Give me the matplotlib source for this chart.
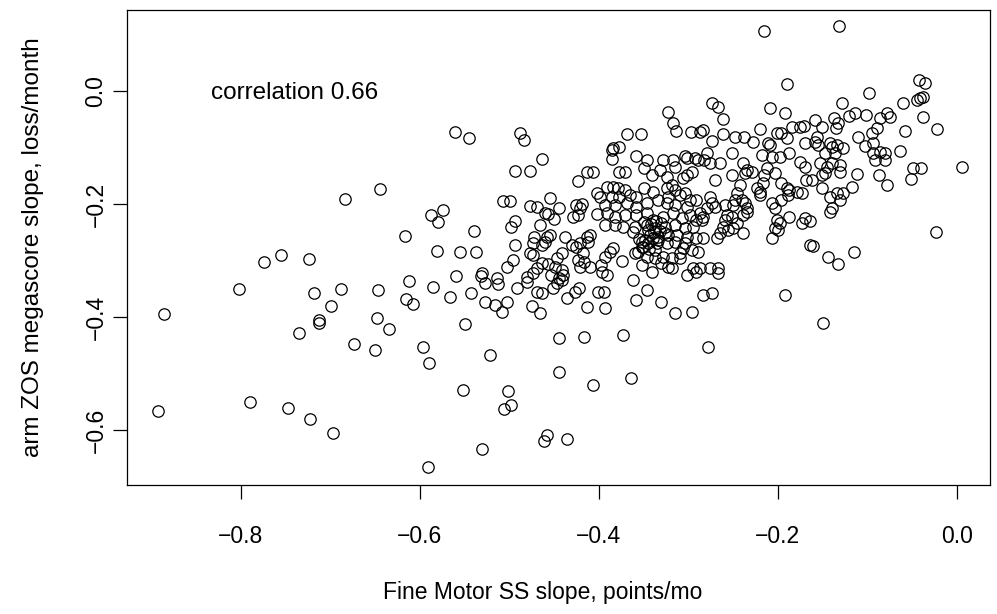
import matplotlib.pyplot as plt

plt.rcParams["font.family"] = ["Liberation Sans", "DejaVu Sans"]

# fine motor slope (points/mo) vs arm ZOS megascore slope (loss/month)
fine_motor = [
    -0.684, -0.774, -0.755, -0.724, -0.802, -0.718, -0.688, -0.699, -0.713, -0.713,
    -0.735, -0.886, -0.892, -0.790, -0.747, -0.723, -0.697,
    -0.561, -0.545, -0.644, -0.574, -0.587, -0.580, -0.617, -0.539, -0.581, -0.555,
    -0.537, -0.559, -0.532, -0.527, -0.612, -0.585, -0.566, -0.543, -0.527, -0.647,
    -0.615, -0.607, -0.648, -0.634, -0.549, -0.673, -0.650, -0.596, -0.590, -0.522,
    -0.552, -0.530, -0.591,
    -0.488, -0.484, -0.464, -0.494, -0.477, -0.413, -0.407, -0.423, -0.402, -0.399,
    -0.507, -0.499, -0.454, -0.477, -0.469, -0.445, -0.425, -0.419, -0.429, -0.423,
    -0.421, -0.460, -0.457, -0.450, -0.402, -0.494, -0.498, -0.466, -0.472, -0.474,
    -0.458, -0.455, -0.460, -0.463, -0.438, -0.494, -0.430, -0.425, -0.421, -0.418,
    -0.413, -0.410, -0.412, -0.477, -0.474, -0.441, -0.447, -0.496, -0.503, -0.463,
    -0.457, -0.469, -0.474, -0.423, -0.416, -0.421, -0.410, -0.441, -0.449, -0.453,
    -0.440, -0.530, -0.514, -0.480, -0.444,
    -0.513, -0.491, -0.480, -0.469, -0.463, -0.451, -0.447, -0.441, -0.435, -0.427,
    -0.422, -0.401, -0.516, -0.508, -0.503, -0.475, -0.466, -0.413, -0.445, -0.416,
    -0.444, -0.406, -0.501, -0.498, -0.506, -0.458, -0.461, -0.436,
    -0.323, -0.317, -0.314, -0.297, -0.287, -0.369, -0.353, -0.384, -0.385, -0.377,
    -0.385, -0.358, -0.346, -0.349, -0.341, -0.328, -0.317, -0.315, -0.324, -0.332,
    -0.304, -0.301, -0.293, -0.289, -0.377, -0.371, -0.301, -0.296, -0.306, -0.391,
    -0.384, -0.379, -0.371, -0.385, -0.377, -0.365, -0.358, -0.349, -0.340, -0.324,
    -0.318, -0.315, -0.323, -0.309, -0.304, -0.298, -0.291, -0.393, -0.382, -0.368,
    -0.358, -0.346, -0.334, -0.324, -0.315, -0.302,
    -0.391, -0.382, -0.371, -0.358, -0.346, -0.340, -0.328, -0.317, -0.307, -0.298,
    -0.291, -0.393, -0.382, -0.373, -0.360, -0.346, -0.337, -0.326, -0.315, -0.304,
    -0.295, -0.343, -0.334, -0.323, -0.313, -0.302, -0.291, -0.345, -0.335, -0.324,
    -0.315, -0.304, -0.352, -0.384, -0.388, -0.356, -0.351, -0.360, -0.393, -0.346,
    -0.337, -0.328, -0.318, -0.309, -0.306, -0.296, -0.289, -0.374, -0.397, -0.396,
    -0.391, -0.352, -0.341, -0.330, -0.323, -0.318, -0.309, -0.295, -0.301, -0.291,
    -0.362, -0.394, -0.346, -0.358, -0.330, -0.393, -0.315, -0.296, -0.373, -0.364,
    -0.216, -0.190, -0.273, -0.267, -0.209, -0.192, -0.261, -0.284, -0.220, -0.184,
    -0.175, -0.171, -0.201, -0.196, -0.190, -0.274, -0.261, -0.248, -0.238, -0.228,
    -0.211, -0.209, -0.170,
    -0.279, -0.276, -0.282, -0.265, -0.251, -0.251, -0.270, -0.239, -0.234, -0.229,
    -0.237, -0.218, -0.207, -0.198, -0.187, -0.212, -0.203, -0.215, -0.175, -0.170,
    -0.168, -0.242, -0.246, -0.248, -0.250, -0.240, -0.237, -0.235, -0.223, -0.220,
    -0.217, -0.220, -0.207, -0.203, -0.196, -0.190, -0.187, -0.189, -0.179, -0.173,
    -0.196, -0.276, -0.274, -0.279, -0.270, -0.259, -0.257, -0.259, -0.251, -0.261,
    -0.256, -0.250, -0.246, -0.265, -0.287, -0.284, -0.285, -0.235, -0.239, -0.201,
    -0.198, -0.203, -0.200, -0.207, -0.187, -0.173, -0.170, -0.239, -0.268, -0.284,
    -0.164, -0.276, -0.267, -0.267, -0.287,
    -0.284, -0.274, -0.192, -0.278,
    -0.132, -0.042, -0.036, -0.098, -0.045, -0.041, -0.038, -0.128, -0.060, -0.078,
    -0.075, -0.086, -0.120, -0.114, -0.102, -0.038, -0.159, -0.151, -0.137, -0.133,
    -0.135, -0.089, -0.095, -0.058, -0.022, -0.111, -0.103, -0.094, -0.156, -0.159,
    -0.155, -0.142, -0.139, -0.134, -0.127, -0.147, -0.136, -0.064, -0.094, -0.086,
    -0.080,
    -0.153, -0.145, -0.139, -0.131, -0.147, -0.151, -0.131, -0.162, -0.151, -0.142,
    -0.134, -0.127, -0.131, -0.139, -0.142, -0.117, -0.112, -0.092, -0.080, -0.087,
    -0.078, -0.049, -0.040, -0.051, 0.006, -0.164, -0.023, -0.161, -0.144, -0.133,
    -0.115, -0.150,
    # tight cluster near the middle
    -0.350, -0.342, -0.336, -0.330, -0.345, -0.338, -0.332, -0.326, -0.355, -0.348,
    -0.340, -0.334, -0.362, -0.352, -0.344, -0.337,
]

arm_zos = [
    -0.191, -0.303, -0.290, -0.297, -0.350, -0.358, -0.350, -0.381, -0.405, -0.411,
    -0.428, -0.395, -0.566, -0.550, -0.561, -0.581, -0.605,
    -0.073, -0.083, -0.173, -0.211, -0.219, -0.232, -0.257, -0.248, -0.283, -0.285,
    -0.285, -0.327, -0.327, -0.340, -0.336, -0.347, -0.365, -0.358, -0.373, -0.352,
    -0.368, -0.377, -0.402, -0.421, -0.412, -0.448, -0.458, -0.453, -0.481, -0.467,
    -0.529, -0.634, -0.665,
    -0.074, -0.087, -0.120, -0.142, -0.142, -0.143, -0.143, -0.159, -0.181, -0.188,
    -0.195, -0.195, -0.189, -0.204, -0.205, -0.207, -0.202, -0.200, -0.223, -0.219,
    -0.207, -0.216, -0.218, -0.227, -0.218, -0.230, -0.241, -0.237, -0.258, -0.269,
    -0.258, -0.255, -0.267, -0.273, -0.258, -0.273, -0.273, -0.276, -0.269, -0.287,
    -0.258, -0.255, -0.267, -0.287, -0.290, -0.287, -0.296, -0.299, -0.312, -0.304,
    -0.306, -0.313, -0.322, -0.299, -0.303, -0.312, -0.312, -0.317, -0.312, -0.326,
    -0.326, -0.322, -0.331, -0.329, -0.331,
    -0.342, -0.349, -0.338, -0.356, -0.358, -0.349, -0.340, -0.335, -0.366, -0.356,
    -0.349, -0.356, -0.379, -0.391, -0.373, -0.381, -0.393, -0.382, -0.437, -0.435,
    -0.497, -0.520, -0.531, -0.556, -0.563, -0.609, -0.619, -0.616,
    -0.037, -0.057, -0.071, -0.073, -0.073, -0.076, -0.076, -0.101, -0.104, -0.099,
    -0.120, -0.115, -0.122, -0.136, -0.149, -0.122, -0.122, -0.135, -0.152, -0.140,
    -0.115, -0.119, -0.119, -0.122, -0.143, -0.143, -0.149, -0.143, -0.154, -0.170,
    -0.170, -0.172, -0.175, -0.188, -0.188, -0.184, -0.188, -0.172, -0.179, -0.172,
    -0.166, -0.175, -0.188, -0.184, -0.181, -0.193, -0.193, -0.202, -0.202, -0.198,
    -0.205, -0.198, -0.193, -0.198, -0.202, -0.205,
    -0.216, -0.223, -0.219, -0.219, -0.216, -0.228, -0.223, -0.216, -0.225, -0.219,
    -0.228, -0.237, -0.237, -0.241, -0.241, -0.237, -0.242, -0.241, -0.237, -0.242,
    -0.241, -0.255, -0.258, -0.255, -0.255, -0.258, -0.260, -0.269, -0.269, -0.269,
    -0.267, -0.269, -0.267, -0.278, -0.285, -0.285, -0.276, -0.287, -0.294, -0.294,
    -0.296, -0.294, -0.296, -0.287, -0.278, -0.281, -0.285, -0.301, -0.308, -0.320,
    -0.326, -0.308, -0.320, -0.304, -0.312, -0.313, -0.296, -0.313, -0.326, -0.320,
    -0.335, -0.356, -0.352, -0.370, -0.373, -0.384, -0.393, -0.391, -0.432, -0.508,
    0.106, 0.012, -0.021, -0.028, -0.030, -0.039, -0.050, -0.069, -0.067, -0.064,
    -0.064, -0.062, -0.074, -0.074, -0.083, -0.089, -0.076, -0.081, -0.081, -0.090,
    -0.092, -0.096, -0.092,
    -0.110, -0.127, -0.122, -0.127, -0.110, -0.149, -0.158, -0.127, -0.140, -0.143,
    -0.145, -0.113, -0.117, -0.117, -0.110, -0.136, -0.145, -0.149, -0.126, -0.135,
    -0.158, -0.166, -0.181, -0.193, -0.202, -0.193, -0.198, -0.207, -0.172, -0.179,
    -0.163, -0.184, -0.198, -0.207, -0.163, -0.172, -0.175, -0.184, -0.179, -0.181,
    -0.193, -0.188, -0.198, -0.207, -0.205, -0.202, -0.219, -0.228, -0.223, -0.241,
    -0.246, -0.242, -0.234, -0.251, -0.216, -0.223, -0.228, -0.214, -0.219, -0.228,
    -0.234, -0.242, -0.246, -0.260, -0.223, -0.234, -0.225, -0.251, -0.260, -0.260,
    -0.273, -0.313, -0.313, -0.322, -0.313,
    -0.361, -0.358, -0.361, -0.453,
    0.115, 0.019, 0.014, -0.004, -0.016, -0.012, -0.011, -0.021, -0.021, -0.039,
    -0.046, -0.048, -0.044, -0.039, -0.042, -0.046, -0.051, -0.064, -0.048, -0.057,
    -0.065, -0.065, -0.074, -0.071, -0.067, -0.081, -0.097, -0.092, -0.081, -0.090,
    -0.096, -0.092, -0.099, -0.096, -0.101, -0.110, -0.110, -0.106, -0.110, -0.108,
    -0.110,
    -0.127, -0.135, -0.127, -0.131, -0.145, -0.149, -0.143, -0.158, -0.172, -0.188,
    -0.181, -0.181, -0.193, -0.207, -0.214, -0.170, -0.147, -0.122, -0.122, -0.149,
    -0.166, -0.136, -0.136, -0.156, -0.135, -0.230, -0.250, -0.274, -0.294, -0.306,
    -0.285, -0.411,
    -0.232, -0.236, -0.230, -0.234, -0.246, -0.250, -0.248, -0.252, -0.262, -0.264,
    -0.260, -0.263, -0.250, -0.276, -0.280, -0.282,
]

fig = plt.figure(figsize=(9.97, 6.14), dpi=100)
ax = fig.add_axes([0.1274, 0.2101, 0.8656, 0.7736])

ax.plot(fine_motor, arm_zos, "o", markersize=8.2, markerfacecolor="none",
        markeredgecolor="black", markeredgewidth=0.9)

ax.set_xlim(-0.927, 0.037)
ax.set_ylim(-0.697, 0.143)
ax.set_xticks([-0.8, -0.6, -0.4, -0.2, 0.0])
ax.set_xticklabels(["\u22120.8", "\u22120.6", "\u22120.4", "\u22120.2", "0.0"])
ax.set_yticks([-0.6, -0.4, -0.2, 0.0])
ax.set_yticklabels(["\u22120.6", "\u22120.4", "\u22120.2", "0.0"], rotation=90, va="center")

for side in ax.spines.values():
    side.set_linewidth(0.9)
ax.tick_params(axis="both", labelsize=16.5, length=10, width=0.9, direction="out")
ax.tick_params(axis="x", pad=19)
ax.tick_params(axis="y", pad=4)

ax.set_xlabel("Fine Motor SS slope, points/mo", fontsize=16.5)
ax.xaxis.set_label_coords(0.482, -0.203)
ax.set_ylabel("arm ZOS megascore slope, loss/month", fontsize=17.5)
ax.yaxis.set_label_coords(-0.096, 0.5)

ax.text(-0.74, -0.003, "correlation 0.66", fontsize=17.5, ha="center", va="center")

fig.savefig("out.png", dpi=100)
